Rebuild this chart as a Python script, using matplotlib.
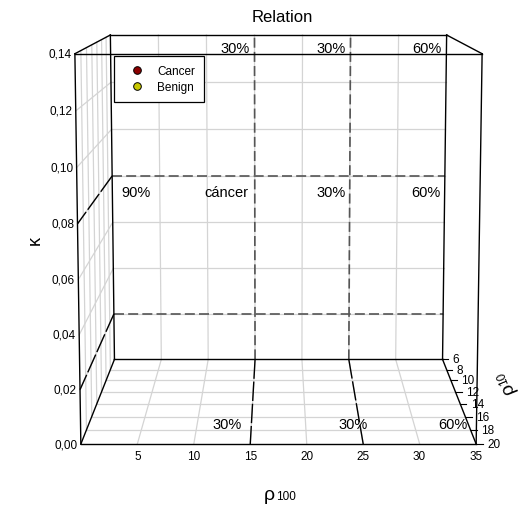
import matplotlib
matplotlib.use("Agg")
import matplotlib.pyplot as plt
from matplotlib.lines import Line2D
from mpl_toolkits.mplot3d import proj3d

plt.rcParams['font.family'] = ['Liberation Sans', 'DejaVu Sans']

# ---------------- data ----------------
x_lim = (0, 35)
y_lim = (6, 20)
z_lim = (0.0, 0.14)
x_ticks = [5, 10, 15, 20, 25, 30, 35]
y_ticks = [6, 8, 10, 12, 14, 16, 18, 20]
z_ticks = [0.00, 0.02, 0.04, 0.06, 0.08, 0.10, 0.12, 0.14]
cut_x = [15, 25]          # rho100 cut-offs
cut_z = [0.02, 0.08]      # kappa cut-offs

series_names = ["Cancer", "Benign"]
series_colors = ["#8B0000", "#C8C800"]
cancer_rho100, cancer_rho10, cancer_kappa = [], [], []
benign_rho100, benign_rho10, benign_kappa = [], [], []

top_labels = ["30%", "30%", "60%"]
top_x = [13, 23, 33]
top_z = 0.1345
mid_labels = ["90%", "cáncer", "30%", "60%"]
mid_x = [2.5, 12, 23, 33]
mid_z = 0.0733
floor_labels = ["30%", "30%", "60%"]
floor_x = [12.8, 24.4, 33.6]
floor_y = 17.2

# ---------------- figure ----------------
W, H = 526, 506
fig = plt.figure(figsize=(W / 100, H / 100), dpi=100)
S = 608.0
cx, cy = 278.5, 282.0
fr = 0.095 / 0.185
ax = fig.add_axes([(cx - fr * S) / W, (cy - fr * S) / H, S / W, S / H],
                  projection='3d', computed_zorder=False)

ax.scatter(cancer_rho100, cancer_rho10, cancer_kappa, color=series_colors[0])
ax.scatter(benign_rho100, benign_rho10, benign_kappa, color=series_colors[1])

ax.set_box_aspect((1, 1, 0.985))
ax.set_proj_type('persp', focal_length=0.581)
ax.view_init(elev=8.25, azim=-90)
ax.set_xlim(*x_lim)
ax.set_ylim(y_lim[1], y_lim[0])
ax.set_zlim(*z_lim)
ax.set_axis_off()

X0, X1 = x_lim
Y0, Y1 = y_lim
Z0, Z1 = z_lim
grid_kw = dict(color='#d4d4d4', lw=0.9)

# back wall grid
for x in x_ticks[:-1]:
    ax.plot([x, x], [Y0, Y0], [Z0, Z1], **grid_kw)
for z in z_ticks[1:-1]:
    ax.plot([X0, X1], [Y0, Y0], [z, z], **grid_kw)
# left wall grid
for y in y_ticks[1:-1]:
    ax.plot([X0, X0], [y, y], [Z0, Z1], **grid_kw)
for z in z_ticks[1:-1]:
    ax.plot([X0, X0], [Y0, Y1], [z, z], **grid_kw)
# floor grid
for x in x_ticks[:-1]:
    ax.plot([x, x], [Y0, Y1], [Z0, Z0], **grid_kw)
for y in y_ticks[1:-1]:
    ax.plot([X0, X1], [y, y], [Z0, Z0], **grid_kw)

# cut-off lines
back_kw = dict(color='#555555', lw=1.2, ls=(0, (6, 2.5)))
side_kw = dict(color='black', lw=1.0, ls=(0, (14, 2)))
for x in cut_x:
    ax.plot([x, x], [Y0, Y0], [Z0, Z1], **back_kw)
    ax.plot([x, x], [Y0, Y1], [Z0, Z0], **side_kw)
for z in cut_z:
    ax.plot([X0, X1], [Y0, Y0], [z, z], **back_kw)
    ax.plot([X0, X0], [Y0, Y1], [z, z], **side_kw)

# box edges
edge_kw = dict(color='black', lw=1.0)
for y in (Y0, Y1):
    for z in (Z0, Z1):
        ax.plot([X0, X1], [y, y], [z, z], **edge_kw)
for x in (X0, X1):
    for z in (Z0, Z1):
        ax.plot([x, x], [Y0, Y1], [z, z], **edge_kw)
for x in (X0, X1):
    for y in (Y0, Y1):
        ax.plot([x, x], [y, y], [Z0, Z1], **edge_kw)

# text placed at projected 3-D positions
M = ax.get_proj()


def put(x, y, z, s, **kw):
    px, py, _ = proj3d.proj_transform(x, y, z, M)
    ax.text2D(px, py, s, transform=ax.transData, **kw)


tfs = 8.5
for x in x_ticks:
    put(x, Y1, -0.0046, str(x), ha='center', va='center', fontsize=tfs)
for z in z_ticks:
    put(X0 - 0.3, Y1, z, f"{z:.2f}".replace('.', ','), ha='right',
        va='center', fontsize=tfs)
for y in y_ticks:
    ax.plot([X1, X1 + 0.6], [y, y], [0, 0], color='black', lw=0.8)
    put(X1 + 1.0, y, 0, str(y), ha='left', va='center', fontsize=tfs)

lfs = 10.5
for s, x in zip(top_labels, top_x):
    put(x, Y0, top_z, s, ha='center', va='center', fontsize=lfs)
for s, x in zip(mid_labels, mid_x):
    put(x, Y0, mid_z, s, ha='center', va='center', fontsize=lfs)
for s, x in zip(floor_labels, floor_x):
    put(x, floor_y, Z0, s, ha='center', va='center', fontsize=lfs)

# titles / axis labels
fig.text(282 / W, 1 - 17 / H, "Relation", ha='center', va='center', fontsize=12)
fig.text(35 / W, 1 - 240 / H, "κ", rotation=90, ha='center', va='center', fontsize=13)
fig.text(275 / W, 1 - 500 / H, "ρ", ha='right', va='baseline', fontsize=14)
fig.text(276 / W, 1 - 500 / H, "100", ha='left', va='baseline', fontsize=8.5)
fig.text(508 / W, 1 - 388 / H, "ρ", rotation=112, rotation_mode='anchor',
         ha='center', va='center', fontsize=14)
fig.text(503 / W, 1 - 378 / H, "10", rotation=112, rotation_mode='anchor',
         ha='center', va='center', fontsize=8.5)

# legend
handles = [Line2D([], [], marker='o', ls='none', markerfacecolor=c,
                  markeredgecolor='black', markeredgewidth=0.7, markersize=5.5,
                  label=n) for n, c in zip(series_names, series_colors)]
leg = fig.legend(handles=handles, loc='upper left',
                 bbox_to_anchor=(114 / W, 1 - 57 / H), frameon=True,
                 fancybox=False, edgecolor='black', framealpha=1,
                 fontsize=8.5, borderpad=0.75, handletextpad=0.5,
                 labelspacing=0.36, handlelength=2.4, borderaxespad=0)
leg.get_frame().set_linewidth(0.9)

fig.savefig("out.png", dpi=100)
